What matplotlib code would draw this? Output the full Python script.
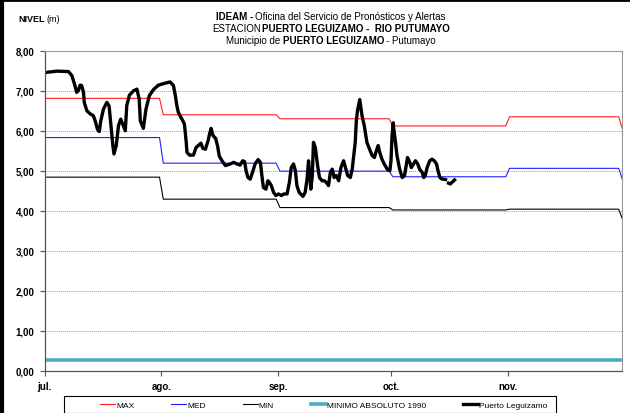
import numpy as np
import matplotlib
matplotlib.use('Agg')
import matplotlib.pyplot as plt
from matplotlib.lines import Line2D
from matplotlib.patches import Rectangle

plt.rcParams['font.family'] = ['Liberation Sans Narrow', 'Liberation Sans', 'DejaVu Sans']

# niveles de referencia por mes (jul..nov + primer dia de dic)
meses = ['jul.', 'ago.', 'sep.', 'oct.', 'nov.']
dias_mes = [31, 31, 30, 31, 30, 1]
inicio_mes = [0, 31, 62, 92, 123]
nivel_max = [6.81, 6.40, 6.30, 6.12, 6.35, 6.04]
nivel_med = [5.83, 5.19, 4.99, 4.85, 5.06, 4.78]
nivel_min = [4.84, 4.29, 4.08, 4.02, 4.04, 3.79]
minimo_1990 = 0.26

# lecturas Puerto Leguizamo (dias desde 1 jul, nivel en m)
dia = [0.5, 3.2, 6.3, 7.2, 7.9, 8.5, 8.9, 9.4, 9.8, 10.3, 10.5, 11.2, 12.1, 12.9, 13.4,
       14.0, 14.5, 14.9, 15.6, 16.5, 17.1, 17.6, 18.1, 18.4, 19.0, 19.6, 20.2, 20.7, 21.4,
       21.8, 22.5, 23.6, 24.5, 25.1, 25.4, 26.2, 26.9, 27.8, 28.9, 30.2, 32.0, 33.3, 34.2,
       34.7, 35.1, 35.5, 36.2, 36.7, 37.1, 37.3, 37.6, 37.8, 38.5, 39.5, 40.2, 40.9, 41.5,
       42.0, 42.7, 43.4, 43.8, 44.2, 44.7, 45.4, 45.9, 46.4, 47.1, 48.0, 49.3, 50.2, 51.1,
       51.9, 52.6, 53.1, 53.5, 54.0, 54.6, 55.2, 55.9, 56.7, 57.3, 57.7, 58.1, 58.8, 59.3,
       59.7, 60.2, 60.8, 61.4, 62.1, 62.9, 63.5, 64.4, 65.0, 65.5, 66.1, 66.6, 67.0, 67.6,
       68.6, 69.2, 69.7, 70.1, 70.4, 70.7, 71.1, 71.4, 71.9, 72.5, 73.0, 73.7, 74.3, 74.8,
       75.4, 75.9, 76.4, 76.9, 77.5, 78.1, 78.7, 79.4, 79.9, 80.5, 81.2, 81.7, 82.1, 82.5,
       82.8, 83.1, 83.7, 84.3, 84.9, 85.6, 86.3, 87.0, 87.6, 88.1, 88.6, 89.0, 89.6, 90.2,
       91.0, 91.7, 92.0, 92.3, 92.6, 92.7, 93.2, 93.6, 94.3, 95.0, 95.6, 96.1, 96.4, 97.0,
       97.4, 98.0, 98.5, 99.1, 99.6, 100.3, 100.7, 101.1, 101.6, 102.3, 102.9, 103.5, 104.1,
       104.5, 105.0, 105.6, 106.0, 106.5, 106.9, 107.3, 107.8, 108.2, 108.9]
nivel = [7.46, 7.49, 7.48, 7.38, 7.17, 6.96, 7.00, 7.14, 7.13, 6.96, 6.71, 6.50, 6.42, 6.38, 6.25,
         6.04, 5.98, 6.25, 6.54, 6.71, 6.62, 6.13, 5.63, 5.42, 5.63, 6.13, 6.29, 6.17, 6.00,
         6.63, 6.89, 7.00, 7.04, 6.79, 6.25, 6.06, 6.54, 6.88, 7.03, 7.14, 7.19, 7.22, 7.13,
         6.88, 6.63, 6.46, 6.33, 6.25, 6.17, 6.00, 5.71, 5.46, 5.39, 5.39, 5.58, 5.64, 5.69,
         5.56, 5.54, 5.75, 5.92, 6.06, 5.88, 5.81, 5.63, 5.36, 5.25, 5.13, 5.17, 5.21, 5.17,
         5.14, 5.25, 5.23, 5.00, 4.83, 4.79, 4.96, 5.17, 5.28, 5.21, 4.88, 4.58, 4.54, 4.75,
         4.71, 4.63, 4.46, 4.38, 4.42, 4.38, 4.42, 4.42, 4.71, 5.08, 5.17, 5.00, 4.63, 4.46,
         4.36, 4.46, 4.79, 5.25, 4.88, 4.54, 4.88, 5.71, 5.58, 5.13, 4.83, 4.75, 4.75, 4.71,
         4.63, 4.96, 5.04, 4.83, 4.88, 4.75, 5.08, 5.25, 5.08, 4.88, 4.83, 5.04, 5.38, 5.71,
         6.25, 6.50, 6.78, 6.38, 6.13, 5.71, 5.54, 5.38, 5.33, 5.50, 5.63, 5.46, 5.29, 5.17,
         5.04, 5.00, 5.25, 5.90, 6.20, 6.08, 5.71, 5.38, 5.04, 4.83, 4.88, 5.17, 5.33, 5.21,
         5.08, 5.17, 5.25, 5.17, 5.04, 4.96, 4.83, 4.88, 5.08, 5.25, 5.29, 5.25, 5.17,
         5.00, 4.83, 4.79, 4.79, 4.78, np.nan, 4.69, 4.67, 4.71, 4.77]

x_mes = np.arange(sum(dias_mes)) + 0.5
serie_max = np.repeat(nivel_max, dias_mes)
serie_med = np.repeat(nivel_med, dias_mes)
serie_min = np.repeat(nivel_min, dias_mes)

fig = plt.figure(figsize=(6.3, 4.14), dpi=100)
ax = fig.add_axes([0.071, 0.102, 0.917, 0.773])

ax.plot(x_mes, serie_max, color='#ff2020', lw=0.8)
ax.plot(x_mes, serie_med, color='#2020ff', lw=0.8)
ax.plot(x_mes, serie_min, color='black', lw=0.8)
ax.axhline(minimo_1990, color='#4bacc6', lw=2.6)
ax.plot(dia, nivel, color='black', lw=2.4, solid_joinstyle='round')

ax.set_xlim(0, 153.5)
ax.set_ylim(0, 8)
ax.set_yticks(range(9))
ax.set_yticklabels(['%d,00' % v for v in range(9)], fontsize=7, fontweight='bold')
ax.set_xticks(inicio_mes)
ax.set_xticklabels(meses, fontsize=7, fontweight='bold')
ax.tick_params(axis='y', direction='out', length=3.5, width=0.8, pad=4, colors='#555555', labelcolor='black')
ax.tick_params(axis='x', direction='out', length=3.5, width=0.8, pad=4, colors='#555555', labelcolor='black')
ax.grid(axis='y', color='#a0a0a0', ls=(0, (1, 1)), lw=0.7)
ax.set_axisbelow(True)
for lado in ['top', 'right']:
    ax.spines[lado].set_color('#999999')
    ax.spines[lado].set_linewidth(0.8)
for lado in ['left', 'bottom']:
    ax.spines[lado].set_color('#555555')
    ax.spines[lado].set_linewidth(0.9)

# marco negro de la imagen (izquierda y arriba)
fig.add_artist(Line2D([0.003, 0.003], [0, 1], color='black', lw=3, transform=fig.transFigure))
fig.add_artist(Line2D([0, 1], [0.998, 0.998], color='black', lw=2, transform=fig.transFigure))

W, H = 630, 414
fig.canvas.draw()
r = fig.canvas.get_renderer()


def linea_mixta(xc, yc, partes, size=7, gap=2.0):
    objs = []
    anchos = []
    for texto, peso in partes:
        o = fig.text(0, 1 - yc / H, texto, fontsize=size, fontweight=peso, va='center', ha='left')
        anchos.append(o.get_window_extent(r).width)
        objs.append(o)
    total = sum(anchos) + gap * (len(partes) - 1)
    x = xc - total / 2
    for o, a in zip(objs, anchos):
        o.set_x(x / W)
        x += a + gap


linea_mixta(331, 17.5, [('IDEAM -', 'bold'), ('Oficina del Servicio de Pronósticos y Alertas', 'normal')])
linea_mixta(331, 29, [('ESTACION', 'normal'), ('PUERTO LEGUIZAMO -  RIO PUTUMAYO', 'bold')], gap=0.5)
linea_mixta(331, 40.5, [('Municipio de', 'normal'), ('PUERTO LEGUIZAMO', 'bold'), ('- Putumayo', 'normal')])
linea_mixta(39, 19, [('NIVEL', 'bold'), ('(m)', 'normal')], size=6.5)

# leyenda: marco fijo como en el original, entradas dentro
fig.add_artist(Rectangle((64 / W, 0), 492 / W, 1 - 397 / H, transform=fig.transFigure,
                         fill=False, edgecolor='black', lw=0.8))
handles = [Line2D([], [], color='#ff2020', lw=0.8),
           Line2D([], [], color='#2020ff', lw=0.8),
           Line2D([], [], color='black', lw=0.8),
           Line2D([], [], color='#4bacc6', lw=2.6),
           Line2D([], [], color='black', lw=2.4)]
etiquetas = ['MAX', 'MED', 'MIN', 'MINIMO ABSOLUTO 1990', 'Puerto Leguizamo']
leg = fig.legend(handles, etiquetas, ncol=5, loc='center left', bbox_to_anchor=(100 / W, 1 - 406 / H),
                 fontsize=6, frameon=False, handlelength=1.8, handletextpad=0.15,
                 columnspacing=4.4, borderpad=0, borderaxespad=0)

fig.savefig('out.png', dpi=100)
